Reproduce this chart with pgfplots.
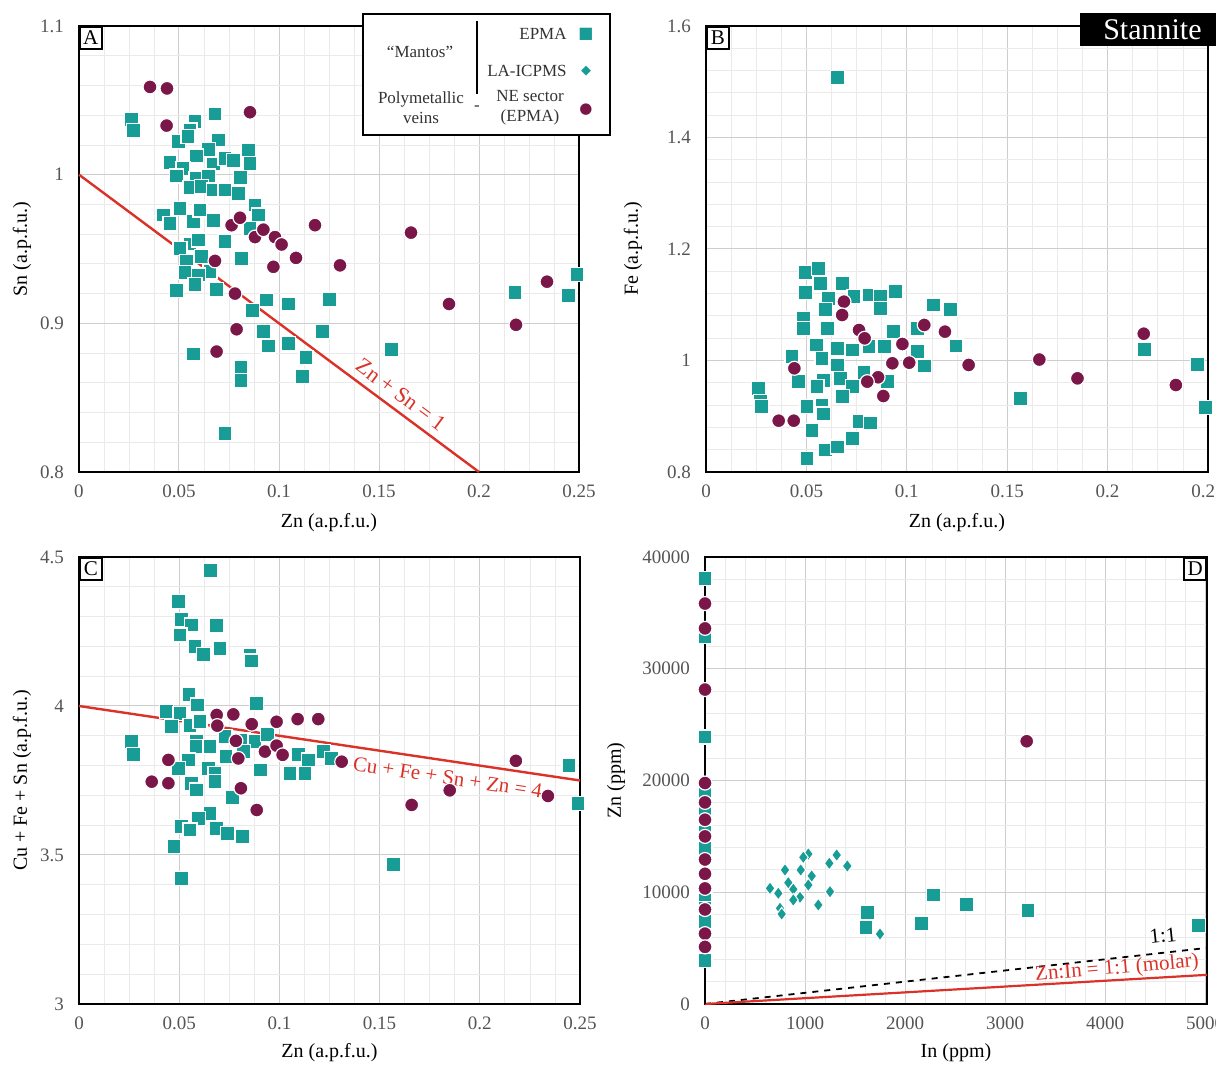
\documentclass[border=0pt]{standalone}
\usepackage{fontspec}
\setmainfont{Liberation Serif}
\newfontfamily\symfont{DejaVu Sans}
\usepackage{pgfplots}
\pgfplotsset{compat=1.18}
\definecolor{teal1}{RGB}{24,156,150}
\definecolor{maroon1}{RGB}{122,22,72}
\definecolor{lred}{RGB}{218,50,40}
\definecolor{gridmaj}{RGB}{205,205,205}
\definecolor{gridmin}{RGB}{234,234,234}
\definecolor{tcol}{RGB}{85,85,85}
\tikzset{letter/.style={draw, line width=0.8pt, fill=white, inner sep=1.2pt, minimum size=11pt, font=\fontsize{10.5}{11}\selectfont}}
\pgfplotsset{
 panel/.style={
  scale only axis, clip=false,
  axis line style={line width=1.1pt, black},
  grid=both,
  major grid style={draw=gridmaj, line width=0.5pt},
  minor grid style={draw=gridmin, line width=0.4pt},
  major tick length=0pt, minor tick length=0pt,
  tick style={draw=none},
  xticklabel style={font=\fontsize{9.5}{11}\selectfont, text=tcol, yshift=-3pt},
  yticklabel style={font=\fontsize{9.5}{11}\selectfont, text=tcol, xshift=-4pt},
  label style={font=\fontsize{11.5}{13}\selectfont, text=tcol},
  scaled ticks=false,
  /pgf/number format/assume math mode=true,
 },
 epma/.style={only marks, mark=square*, mark size=3.5pt, mark options={fill=teal1, draw=white, line width=0.6pt}},
 icp/.style={only marks, mark=diamond*, mark size=3.3pt, mark options={fill=teal1, draw=white, line width=0.5pt}},
 ne/.style={only marks, mark=*, mark size=3.5pt, mark options={fill=maroon1, draw=white, line width=0.6pt}},
}
\begin{document}
\begin{tikzpicture}
\useasboundingbox (0,0) rectangle (608pt,532.5pt);
% ---------------- Panel A
\begin{axis}[panel, at={(39.5pt,296.5pt)}, anchor=south west,
 width=250pt, height=223pt, xmin=0, xmax=0.25, ymin=0.8, ymax=1.1,
 xtick={0,0.05,0.1,0.15,0.2,0.25}, xticklabels={0,0.05,0.1,0.15,0.2,0.25},
 ytick={0.8,0.9,1,1.1}, yticklabels={0.8,0.9,1,1.1},
 minor x tick num=3, minor y tick num=4,
 every axis x label/.style={at={(axis description cs:0.5,-0.1143)}, anchor=center},
 every axis y label/.style={at={(axis description cs:-0.114,0.5)}, rotate=90, anchor=center},
 xlabel={Zn (a.p.f.u.)}, ylabel={Sn (a.p.f.u.)}]
\addplot[lred, line width=1.2pt] coordinates {(0,1) (0.2,0.8)};
\addplot[epma] coordinates {
(0.0263,1.0372) (0.0272,1.0296) (0.068,1.0408) (0.058,1.0356) (0.0555,1.030)
(0.0497,1.0222) (0.0545,1.0256) (0.0697,1.0233) (0.0647,1.017) (0.0847,1.0166)
(0.0455,1.008) (0.0588,1.0126) (0.052,1.0043) (0.0672,1.0072) (0.073,1.011)
(0.0772,1.0094) (0.0855,1.0076) (0.0488,0.9991) (0.0585,0.9976) (0.0647,0.9991)
(0.0808,0.9982) (0.0555,0.9915) (0.0613,0.9919) (0.0672,0.9897) (0.073,0.9897)
(0.0797,0.9874) (0.088,0.9796) (0.0897,0.9729) (0.0422,0.9729) (0.0455,0.9673)
(0.0505,0.9774) (0.0572,0.9684) (0.0605,0.9762) (0.0672,0.9691) (0.0855,0.9639)
(0.073,0.9549) (0.0555,0.9534) (0.0505,0.9505) (0.0597,0.956) (0.0813,0.9437)
(0.0613,0.9448) (0.0538,0.9415) (0.053,0.934) (0.0655,0.9347) (0.0597,0.9325)
(0.0488,0.922) (0.058,0.926) (0.0688,0.923) (0.0868,0.9085) (0.0938,0.9157)
(0.1047,0.913) (0.1252,0.9162) (0.0922,0.8944) (0.0947,0.8848) (0.1047,0.8866)
(0.1218,0.8944) (0.1135,0.877) (0.1118,0.8641) (0.0572,0.8794) (0.081,0.8704)
(0.081,0.8614) (0.073,0.826) (0.1564,0.8825) (0.218,0.921) (0.2446,0.9187)
(0.249,0.933)};
\addplot[ne] coordinates {
(0.0355,1.059) (0.044,1.058) (0.0438,1.033) (0.0855,1.042) (0.0763,0.966)
(0.0805,0.971) (0.088,0.958) (0.0922,0.963) (0.098,0.958) (0.1013,0.953)
(0.1085,0.944) (0.0972,0.938) (0.118,0.966) (0.068,0.942) (0.1305,0.939)
(0.166,0.961) (0.185,0.913) (0.2185,0.899) (0.234,0.928) (0.078,0.920)
(0.0788,0.896) (0.0688,0.881)};
\node[text=lred, rotate=-36.6, font=\fontsize{11}{12}\selectfont] at (axis cs:0.161,0.852) {Zn + Sn = 1};
\node[letter, anchor=north west] at (rel axis cs:0,1) {A};
\end{axis}
% ---------------- Panel B
\begin{axis}[panel, at={(353pt,296.5pt)}, anchor=south west,
 width=251pt, height=223pt, xmin=0, xmax=0.25, ymin=0.8, ymax=1.6,
 xtick={0,0.05,0.1,0.15,0.2,0.25}, xticklabels={0,0.05,0.1,0.15,0.2,0.25},
 ytick={0.8,1,1.2,1.4,1.6}, yticklabels={0.8,1,1.2,1.4,1.6},
 minor x tick num=3, minor y tick num=4,
 every axis x label/.style={at={(axis description cs:0.5,-0.1143)}, anchor=center},
 every axis y label/.style={at={(axis description cs:-0.1454,0.5)}, rotate=90, anchor=center},
 xlabel={Zn (a.p.f.u.)}, ylabel={Fe (a.p.f.u.)}]
\addplot[epma] coordinates {
(0.0495,1.1575) (0.056,1.1654) (0.057,1.1385) (0.0678,1.1385) (0.0495,1.1216)
(0.0612,1.1116) (0.0737,1.1145) (0.0812,1.1175) (0.087,1.1145) (0.087,1.0936)
(0.0945,1.1234) (0.0595,1.0918) (0.0487,1.0757) (0.0487,1.0578) (0.0607,1.0578)
(0.055,1.0278) (0.0578,1.004) (0.0653,0.992) (0.0728,1.0188) (0.0812,1.0248)
(0.0887,1.0248) (0.0933,1.0517) (0.1053,1.0578) (0.1133,1.0996) (0.1217,1.0918)
(0.1245,1.026) (0.1053,1.0158) (0.109,0.99) (0.0428,1.0068) (0.0462,0.962)
(0.0587,0.9638) (0.067,0.968) (0.0787,0.978) (0.0728,0.953) (0.0903,0.962)
(0.0262,0.950) (0.027,0.926) (0.0278,0.917) (0.0503,0.918) (0.0578,0.920)
(0.0587,0.904) (0.0678,0.935) (0.0528,0.875) (0.0762,0.890) (0.082,0.888)
(0.0728,0.860) (0.0595,0.8395) (0.0653,0.845) (0.0503,0.8245) (0.0553,0.953)
(0.0653,1.022) (0.0654,1.507) (0.1567,0.932) (0.2183,1.0199) (0.2448,0.993)
(0.2487,0.915)};
\addplot[ne] coordinates {
(0.0687,1.1055) (0.0678,1.0816) (0.0762,1.0547) (0.079,1.0398) (0.0978,1.0296)
(0.1087,1.0637) (0.119,1.0517) (0.0928,0.995) (0.1012,0.996) (0.0857,0.9699)
(0.0803,0.962) (0.0883,0.9363) (0.044,0.986) (0.0362,0.892) (0.0437,0.892)
(0.1308,0.992) (0.166,1.0017) (0.185,0.968) (0.218,1.048) (0.234,0.956)};
\node[letter, anchor=north west] at (rel axis cs:0,1) {B};
\end{axis}
% ---------------- Panel C
\begin{axis}[panel, at={(39.5pt,30.5pt)}, anchor=south west,
 width=250.5pt, height=223.5pt, xmin=0, xmax=0.25, ymin=3, ymax=4.5,
 xtick={0,0.05,0.1,0.15,0.2,0.25}, xticklabels={0,0.05,0.1,0.15,0.2,0.25},
 ytick={3,3.5,4,4.5}, yticklabels={3,3.5,4,4.5},
 minor x tick num=3, minor y tick num=4,
 every axis x label/.style={at={(axis description cs:0.5,-0.1096)}, anchor=center},
 every axis y label/.style={at={(axis description cs:-0.1138,0.5)}, rotate=90, anchor=center},
 xlabel={Zn (a.p.f.u.)}, ylabel={Cu + Fe + Sn (a.p.f.u.)}]
\addplot[lred, line width=1.2pt] coordinates {(0,4) (0.25,3.75)};
\addplot[epma] coordinates {
(0.0657,4.456) (0.0496,4.350) (0.0512,4.289) (0.0562,4.272) (0.0504,4.238)
(0.0687,4.269) (0.0579,4.199) (0.062,4.173) (0.0704,4.194) (0.0853,4.171)
(0.0862,4.151) (0.0549,4.039) (0.059,4.003) (0.0887,4.009) (0.0438,3.981)
(0.0504,3.975) (0.0462,3.931) (0.0554,3.934) (0.0604,3.947) (0.0729,3.897)
(0.082,3.886) (0.0878,3.880) (0.094,3.903) (0.0587,3.880) (0.0584,3.863)
(0.0654,3.863) (0.0263,3.880) (0.0271,3.836) (0.0734,3.830) (0.082,3.847)
(0.0545,3.819) (0.0496,3.791) (0.0645,3.791) (0.0679,3.774) (0.0679,3.746)
(0.0562,3.741) (0.0587,3.718) (0.0906,3.785) (0.1094,3.836) (0.1144,3.819)
(0.1219,3.847) (0.1261,3.824) (0.1053,3.774) (0.1128,3.774) (0.0767,3.692)
(0.0654,3.640) (0.0595,3.623) (0.0512,3.595) (0.0554,3.584) (0.0687,3.590)
(0.074,3.573) (0.0817,3.561) (0.0474,3.528) (0.0512,3.422) (0.157,3.468)
(0.2445,3.80) (0.249,3.673)};
\addplot[ne] coordinates {
(0.0687,3.970) (0.077,3.972) (0.069,3.934) (0.0862,3.939) (0.0986,3.947)
(0.1091,3.956) (0.1194,3.956) (0.0783,3.883) (0.0928,3.847) (0.0986,3.867)
(0.1016,3.836) (0.0795,3.824) (0.0446,3.819) (0.0363,3.746) (0.0446,3.741)
(0.0808,3.724) (0.0887,3.651) (0.1311,3.813) (0.166,3.668) (0.185,3.717)
(0.218,3.816) (0.234,3.698)};
\node[text=lred, rotate=-8.5, font=\fontsize{10.5}{12}\selectfont] at (axis cs:0.184,3.76) {Cu + Fe + Sn + Zn = 4};
\node[letter, anchor=north west] at (rel axis cs:0,1) {C};
\end{axis}
% ---------------- Panel D
\begin{axis}[panel, at={(352.5pt,30.5pt)}, anchor=south west,
 width=251pt, height=223.5pt, xmin=0, xmax=5020, ymin=0, ymax=40000,
 xtick={0,1000,2000,3000,4000,5000}, xticklabels={0,1000,2000,3000,4000,5000},
 ytick={0,10000,20000,30000,40000}, yticklabels={0,10000,20000,30000,40000},
 minor x tick num=4, minor y tick num=4,
 every axis x label/.style={at={(axis description cs:0.5,-0.1096)}, anchor=center},
 every axis y label/.style={at={(axis description cs:-0.177,0.5)}, rotate=90, anchor=center},
 xlabel={In (ppm)}, ylabel={Zn (ppm)}]
\addplot[black, dashed, line width=0.9pt] coordinates {(0,0) (5020,5020)};
\addplot[lred, line width=1.1pt] coordinates {(0,0) (5020,2610)};
\addplot[epma] coordinates {
(0,38100) (0,32850) (0,23900) (0,3900) (0,18950) (0,17050) (0,15400)
(0,13900) (0,9300) (0,8550) (0,7350)
(1623,8170) (1610,6864) (2283,9754) (2167,7222) (2616,8913) (3229,8365) (4934,6996)};
\addplot[icp] coordinates {
(1033,13423) (1317,13334) (1423,12350) (1243,12590) (800,11991) (957,11991)
(1067,11455) (833,10855) (1033,10649) (650,10354) (733,9906) (883,10265)
(1250,10050) (950,9548) (883,9307) (1133,8860) (750,8564) (767,8054)
(1750,6264) (983,13128)};
\addplot[ne] coordinates {
(0,35833) (0,33612) (0,28137) (0,19772) (0,18038) (0,16487) (0,14996)
(0,12928) (0,11650) (0,10342) (0,8456) (0,6297) (0,5110) (3217,23513)};
\draw[line width=1.1pt] (rel axis cs:0,0) -- (rel axis cs:0,1);
\node[font=\fontsize{10.5}{12}\selectfont, rotate=6] at (axis cs:4580,6100) {1:1};
\node[text=lred, font=\fontsize{10.5}{12}\selectfont, rotate=5] at (axis cs:4120,3150) {Zn:In = 1:1 (molar)};
\node[letter, anchor=north east] at (rel axis cs:1,1) {D};
\end{axis}
% ---------------- Stannite tag
\node[fill=black, text=white, anchor=north west, minimum height=16.5pt, minimum width=72pt, inner sep=0pt,
 font=\fontsize{15}{15}\selectfont] at (540pt,526pt) {Stannite};
% ---------------- Legend
\draw[line width=1.1pt, fill=white] (181.5pt,465pt) rectangle (305pt,525.5pt);
\begin{scope}[every node/.style={font=\fontsize{8.5}{10}\selectfont, text=black!80, inner sep=0pt}]
\node at (210pt,506.5pt) {“Mantos”};
\draw[line width=0.8pt] (238.5pt,522pt) -- (238.5pt,485.5pt);
\node[anchor=east] at (283.5pt,515.5pt) {EPMA};
\node[anchor=east] at (283.5pt,497pt) {LA-ICPMS};
\node[align=center] at (210.5pt,478.5pt) {Polymetallic\\veins};
\node at (238.5pt,478.5pt) {-};
\node[align=center] at (265pt,478.5pt) {NE sector\\(EPMA)};
\node[text=teal1, font=\symfont\fontsize{8}{10}\selectfont] at (293pt,515.5pt) {■};
\node[text=teal1, font=\symfont\fontsize{6.5}{10}\selectfont] at (293pt,497pt) {◆};
\node[text=maroon1, font=\symfont\fontsize{7.5}{10}\selectfont] at (293pt,477.5pt) {●};
\end{scope}
\end{tikzpicture}
\end{document}
